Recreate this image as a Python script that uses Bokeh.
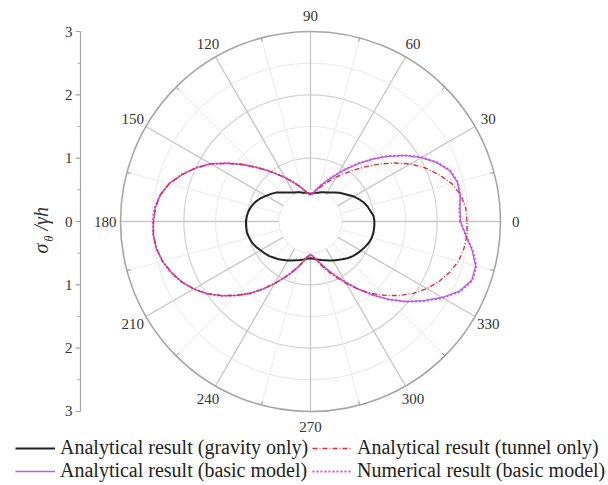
import numpy as np
from bokeh.plotting import figure
from bokeh.models import Range1d, Label, Legend, LegendItem
from bokeh.core.properties import value
from bokeh.embed import file_html
from bokeh.resources import INLINE

# ---------------- data ----------------
angles_5 = list(range(0, 360, 5))      # degrees, 0 = right, counter-clockwise

gravity_only = [1.01, 1.00, 0.96, 0.93, 0.89, 0.84, 0.79, 0.73, 0.68, 0.64, 0.60, 0.56, 0.53, 0.51, 0.49, 0.47, 0.46, 0.45,
                0.44, 0.45, 0.46, 0.47, 0.49, 0.51, 0.53, 0.56, 0.60, 0.65, 0.71, 0.76, 0.81, 0.87, 0.92, 0.96, 0.99, 1.01,
                1.02, 1.02, 1.02, 1.00, 0.98, 0.95, 0.91, 0.88, 0.85, 0.81, 0.78, 0.74, 0.71, 0.68, 0.65, 0.63, 0.61, 0.59,
                0.58, 0.59, 0.61, 0.63, 0.65, 0.68, 0.71, 0.74, 0.78, 0.82, 0.86, 0.89, 0.92, 0.95, 0.98, 1.00, 1.01, 1.01]

tunnel_only = [2.47, 2.46, 2.41, 2.31, 2.16, 2.00, 1.82, 1.61, 1.41, 1.22, 1.06, 0.92, 0.81, 0.71, 0.62, 0.55, 0.49, 0.44,
               0.42, 0.44, 0.49, 0.55, 0.62, 0.70, 0.80, 0.91, 1.05, 1.21, 1.40, 1.60, 1.82, 2.00, 2.16, 2.31, 2.41, 2.46,
               2.48, 2.49, 2.47, 2.42, 2.34, 2.25, 2.13, 1.99, 1.82, 1.65, 1.48, 1.30, 1.13, 0.98, 0.85, 0.74, 0.64, 0.56,
               0.52, 0.56, 0.64, 0.74, 0.85, 0.98, 1.13, 1.30, 1.48, 1.65, 1.82, 1.98, 2.12, 2.24, 2.34, 2.42, 2.46, 2.48]

basic_analytical = [2.37, 2.37, 2.40, 2.40, 2.34, 2.20, 2.02, 1.82, 1.60, 1.40, 1.20, 1.03, 0.88, 0.76, 0.66, 0.58, 0.51, 0.45,
                    0.42, 0.44, 0.49, 0.55, 0.62, 0.70, 0.80, 0.91, 1.05, 1.21, 1.40, 1.60, 1.82, 2.00, 2.16, 2.31, 2.41, 2.46,
                    2.48, 2.49, 2.47, 2.42, 2.34, 2.25, 2.13, 1.99, 1.82, 1.65, 1.48, 1.30, 1.13, 0.98, 0.85, 0.74, 0.64, 0.56,
                    0.52, 0.56, 0.63, 0.71, 0.82, 0.95, 1.11, 1.30, 1.51, 1.74, 1.97, 2.18, 2.40, 2.60, 2.71, 2.70, 2.59, 2.46]

basic_numerical = [2.36, 2.36, 2.40, 2.41, 2.35, 2.21, 2.03, 1.82, 1.61, 1.40, 1.21, 1.03, 0.88, 0.76, 0.66, 0.58, 0.51, 0.45,
                   0.42, 0.44, 0.49, 0.55, 0.62, 0.70, 0.80, 0.91, 1.05, 1.21, 1.40, 1.61, 1.82, 2.00, 2.17, 2.31, 2.41, 2.47,
                   2.49, 2.49, 2.47, 2.42, 2.35, 2.25, 2.13, 1.99, 1.83, 1.65, 1.48, 1.30, 1.13, 0.98, 0.85, 0.74, 0.64, 0.56,
                   0.52, 0.56, 0.63, 0.71, 0.82, 0.95, 1.11, 1.30, 1.51, 1.74, 1.97, 2.19, 2.41, 2.61, 2.72, 2.71, 2.60, 2.46]

r_major = [1, 2]
r_minor = [0.5, 1.5, 2.5]
r_outer = [3]
spoke_angles = list(range(0, 360, 30))
minor_spoke_angles = list(range(15, 360, 30))
angle_labels = [str(a) for a in spoke_angles]
r_axis_ticks = [-3, -2, -1, 0, 1, 2, 3]
r_axis_minor = [-2.5, -1.5, -0.5, 0.5, 1.5, 2.5]
r_axis_labels = ["3", "2", "1", "0", "1", "2", "3"]

legend_labels = ["Analytical result (gravity only)", "Analytical result (tunnel only)",
                 "Analytical result (basic model)", "Numerical result (basic model)"]

# ---------------- layout ----------------
W, H = 608, 485
CX, CY = 310, 221     # pixel position of the pole
K = 63.33             # pixels per unit of sigma/gamma h
AXIS_PX = 80          # pixel x of the radial scale bar on the left

FONT = "Liberation Serif"
GRAY = "#a6a6a6"


def polar(ang, r):
    a = np.deg2rad(np.asarray(ang, dtype=float))
    r = np.asarray(r, dtype=float)
    return r * np.cos(a), r * np.sin(a)


def closed(ang, r):
    x, y = polar(ang, r)
    return np.append(x, x[0]), np.append(y, y[0])


def px2x(px):
    return (px - CX) / K


def py2y(py):
    return (CY - py) / K


p = figure(width=W, height=H, output_backend="svg", toolbar_location=None,
           x_range=Range1d(px2x(0), px2x(W)), y_range=Range1d(py2y(H), py2y(0)),
           x_axis_location=None, y_axis_location=None,
           min_border_left=0, min_border_right=0, min_border_top=0, min_border_bottom=0)
p.outline_line_color = None
p.grid.visible = False
p.background_fill_color = "white"

# ---- radial scale bar on the left (drawn in data units) ----
axx = px2x(AXIS_PX)
p.segment(x0=[axx], y0=[min(r_axis_ticks)], x1=[axx], y1=[max(r_axis_ticks)],
          line_color=GRAY, line_width=1.2)
p.segment(x0=[axx - 5 / K] * len(r_axis_ticks), y0=r_axis_ticks,
          x1=[axx] * len(r_axis_ticks), y1=r_axis_ticks, line_color=GRAY, line_width=1.2)
p.segment(x0=[axx - 3 / K] * len(r_axis_minor), y0=r_axis_minor,
          x1=[axx] * len(r_axis_minor), y1=r_axis_minor, line_color=GRAY, line_width=1)
p.text(x=[axx - 8 / K] * len(r_axis_ticks), y=r_axis_ticks, text=r_axis_labels,
       text_align="right", text_baseline="middle", text_font=value(FONT),
       text_font_size="15px", text_color="#333333")

# ---- polar grid ----
n = len(r_minor)
p.circle(x=[0] * n, y=[0] * n, radius=r_minor, fill_color=None, line_color="#e8e8e8", line_width=1)
p.circle(x=[0] * 2, y=[0] * 2, radius=r_major, fill_color=None, line_color="#d2d2d2", line_width=1.2)
mx0, my0 = polar(minor_spoke_angles, [0.5] * len(minor_spoke_angles))
mx1, my1 = polar(minor_spoke_angles, [3] * len(minor_spoke_angles))
p.segment(mx0, my0, mx1, my1, line_color="#ebebeb", line_width=1)
sx0, sy0 = polar(spoke_angles, [0.5] * len(spoke_angles))
sx1, sy1 = polar(spoke_angles, [3] * len(spoke_angles))
p.segment(sx0, sy0, sx1, sy1, line_color="#c6c6c6", line_width=1.3)
p.circle(x=[0], y=[0], radius=r_outer, fill_color=None, line_color=GRAY, line_width=1.6)
tx0, ty0 = polar(minor_spoke_angles, [2.94] * len(minor_spoke_angles))
tx1, ty1 = polar(minor_spoke_angles, [3] * len(minor_spoke_angles))
p.segment(tx0, ty0, tx1, ty1, line_color=GRAY, line_width=1.2)

# angle labels
lx, ly = polar(spoke_angles, [3.24] * len(spoke_angles))
p.text(lx, ly, text=angle_labels, text_align="center", text_baseline="middle",
       text_font=value(FONT), text_font_size="15px", text_color="#333333")

# ---- curves ----
bx, by = closed(angles_5, gravity_only)
r_black = p.line(bx, by, line_color="#222222", line_width=2)
ax_, ay_ = closed(angles_5, basic_analytical)
r_purple = p.line(ax_, ay_, line_color="#9a66f2", line_width=1.3)
nx, ny = closed(angles_5, basic_numerical)
r_mag = p.line(nx, ny, line_color="#e04ae6", line_width=2, line_dash="2 2")
tx, ty = closed(angles_5, tunnel_only)
r_red = p.line(tx, ty, line_color="#e0303a", line_width=1.4, line_dash="5 2 1 2")

legend = Legend(items=[LegendItem(label=legend_labels[0], renderers=[r_black]),
                       LegendItem(label=legend_labels[2], renderers=[r_purple]),
                       LegendItem(label=legend_labels[1], renderers=[r_red]),
                       LegendItem(label=legend_labels[3], renderers=[r_mag])],
                ncols=2, location=(15, 3), orientation="vertical",
                label_text_font=FONT, label_text_font_size="20px", label_text_color="#222222",
                glyph_width=40, glyph_height=18, label_height=18, label_width=252, label_standoff=5,
                spacing=0, padding=0, margin=0,
                border_line_color=None, background_fill_alpha=0)
p.add_layout(legend)

# ---- rotated axis title  sigma_theta / gamma h ----
p.add_layout(Label(x=px2x(51), y=py2y(253), text="σ", angle=np.pi / 2, text_font=FONT,
                   text_font_style="italic", text_font_size="20px", text_color="#333333"))
p.add_layout(Label(x=px2x(55), y=py2y(241), text="θ", angle=np.pi / 2, text_font=FONT,
                   text_font_style="italic", text_font_size="12px", text_color="#333333"))
p.add_layout(Label(x=px2x(51), y=py2y(230), text="/γh", angle=np.pi / 2, text_font=FONT,
                   text_font_style="italic", text_font_size="20px", text_color="#333333"))

open("out.html", "w").write(file_html(p, INLINE))
